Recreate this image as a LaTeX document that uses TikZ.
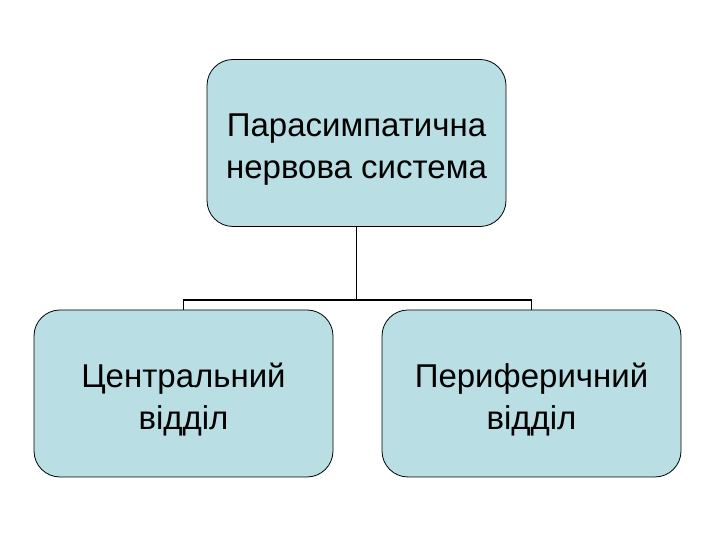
\documentclass[tikz,border=0pt]{standalone}
\usepackage{fontspec}
\setmainfont{Liberation Sans}
\usepackage{xcolor}
\definecolor{boxfill}{RGB}{185,222,227}

\newcommand{\topstrut}{\rule{0pt}{36pt}}

\tikzset{
  unitbox/.style={draw=black, line width=0.8pt, fill=boxfill,
    rounded corners=26pt, minimum width=299pt, minimum height=167pt,
    align=center, font=\fontsize{33}{40}\selectfont, inner sep=0pt},
  link/.style={draw=black, line width=1.8pt},
}

\begin{document}
\begin{tikzpicture}[x=1pt, y=1pt]
  \useasboundingbox (0,0) rectangle (720,540);

  \node [unitbox] (top) at (356.5,397) {\topstrut Парасимпатична\\[2pt]нервова система};
  \node [unitbox] (central) at (183.5,146.5) {\topstrut Центральний\\[2pt]відділ};
  \node [unitbox] (periph) at (531.5,146.5) {\topstrut Периферичний\\[2pt]відділ};
  \coordinate (fork) at (356.5,240);

  \draw [link] (top.south) -- (fork);
  \draw [link] (central.north) |- (fork) -| (periph.north);
\end{tikzpicture}
\end{document}
